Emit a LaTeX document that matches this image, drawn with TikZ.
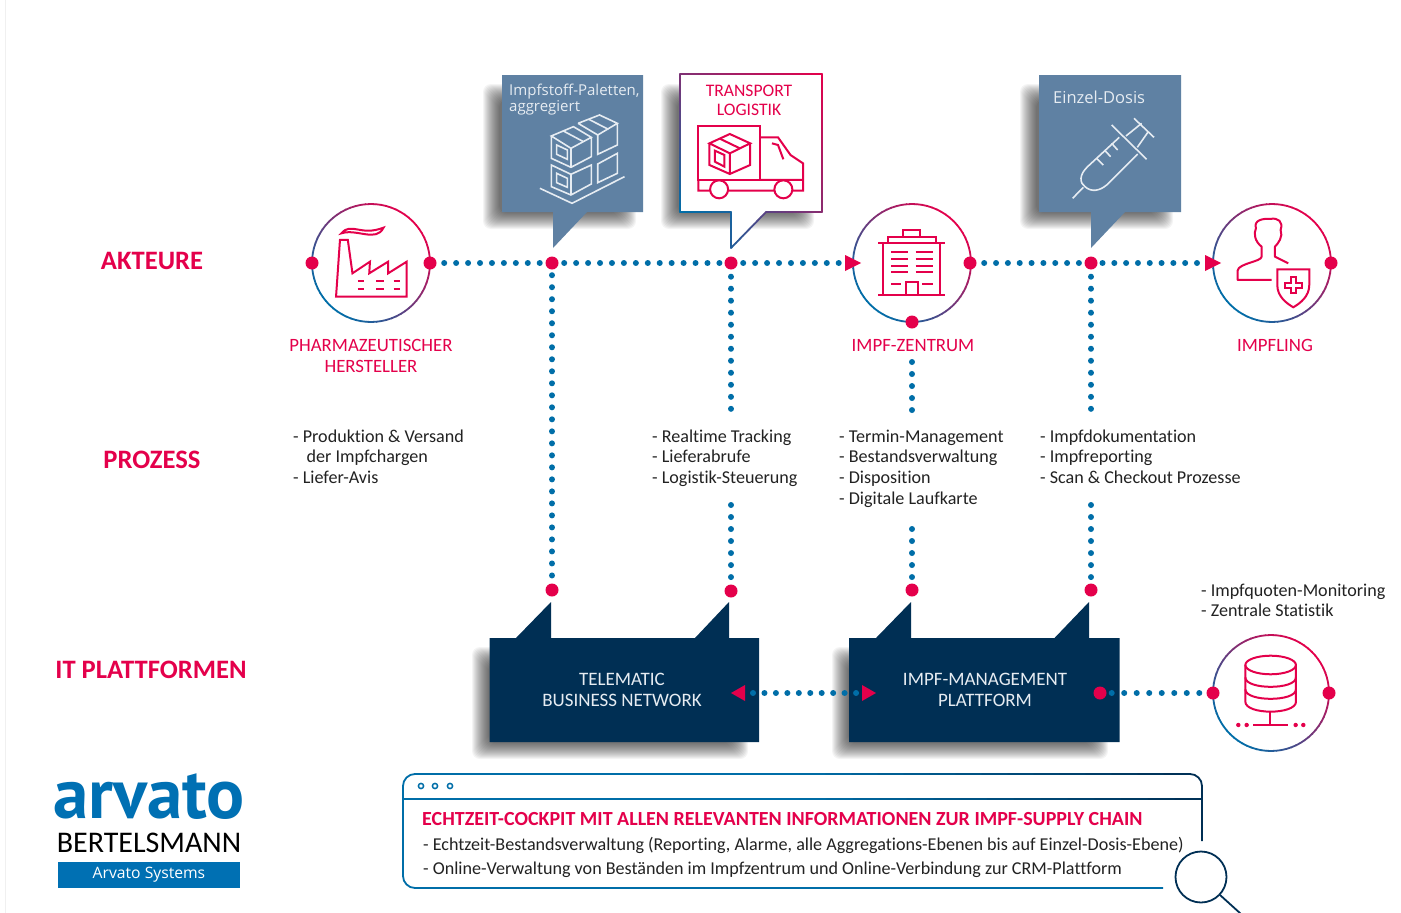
\documentclass[tikz,border=0pt]{standalone}
\usepackage{fontspec}
\setmainfont[Ligatures=NoCommon]{Carlito}
\newfontfamily\uifont{Open Sans}
\newfontfamily\logofont{PT Sans}
\definecolor{pk}{HTML}{E4004B}
\definecolor{bl}{HTML}{006EA8}
\definecolor{nv}{HTML}{002F54}
\definecolor{steel}{HTML}{5F81A3}
\definecolor{lite}{HTML}{E6ECF2}
\definecolor{txt}{HTML}{222222}
\definecolor{logob}{HTML}{0070B3}
\newcommand\gradcircle[3]{\foreach \a in {0,5,...,355}{%
  \pgfmathsetmacro\tv{50+50*cos(\a+2.5-45)}%
  \draw[draw=pk!\tv!bl,line width=1.8pt] ([shift={(\a:#3pt)}]#1,#2) arc[start angle=\a,delta angle=5.6,radius=#3pt];}}
\newcommand\gl[8]{\foreach \i in {0,...,14}{%
  \pgfmathsetmacro\tv{#7+(#8-#7)*(\i+.5)/15}%
  \draw[draw=#1!\tv!#2,line width=1.8pt,line cap=round] ({#3+(#5-#3)*\i/15},{#4+(#6-#4)*\i/15}) -- ({#3+(#5-#3)*(\i+1)/15},{#4+(#6-#4)*(\i+1)/15});}}
\newcommand\softshadow[4]{\foreach \e in {-8,-7,...,8}{%
  \fill[black,opacity=.042,rounded corners=8pt] ({#1-\e},{#2-\e}) rectangle ({#3+\e},{#4+\e});}}
\tikzset{
  reddot/.style={circle,fill=pk,inner sep=0pt,minimum size=13pt},
  dotline/.style={draw=bl,line width=6pt,line cap=round,dash pattern=on 0.01pt off #1pt},
  dotline/.default=11.93,
  pkicon/.style={draw=pk,line width=2pt,line join=miter},
  whicon/.style={draw=lite,line width=1.6pt,line join=miter},
  rowlabel/.style={text=pk,font=\fontsize{26.6}{30}\selectfont\bfseries,inner sep=0pt},
  actor/.style={text=pk,font=\fontsize{18.8}{21}\selectfont,align=center,inner sep=0pt,anchor=north},
  listing/.style={text=txt,font=\fontsize{18.1}{20.7}\selectfont,align=left,inner sep=0pt,anchor=north west},
  boxtext/.style={text=lite,font=\fontsize{19}{21}\selectfont,align=center,inner sep=0pt},
}
\begin{document}
\begin{tikzpicture}[x=1pt,y=-1pt]
\useasboundingbox (0,0) rectangle (1401,913);
\fill[white] (0,0) rectangle (1401,913);
\draw[black!6,line width=1pt] (5,0) -- (5,913);

% shadows
\softshadow{491}{92}{628}{221}
\softshadow{669}{92}{806}{221}
\softshadow{1028}{92}{1165}{221}
\softshadow{480}{655}{740}{751}
\softshadow{840}{655}{1100}{751}

% callouts
\fill[steel] (502,75) -- (643,75) -- (643,212) -- (587,212) -- (553,248) -- (553,212) -- (502,212) -- cycle;
\fill[steel] (1039,75) -- (1181,75) -- (1181,212) -- (1125,212) -- (1091,248) -- (1091,212) -- (1039,212) -- cycle;
\fill[white] (680,74) -- (822,74) -- (822,212) -- (766,212) -- (731,248) -- (731,212) -- (680,212) -- cycle;
\gl{pk}{bl}{680}{74}{822}{74}{55}{100}
\gl{pk}{bl}{822}{74}{822}{212}{100}{60}
\gl{pk}{bl}{822}{212}{766}{212}{60}{40}
\gl{pk}{bl}{766}{212}{731}{248}{40}{15}
\gl{pk}{bl}{731}{248}{731}{212}{15}{10}
\gl{pk}{bl}{731}{212}{680}{212}{10}{0}
\gl{pk}{bl}{680}{212}{680}{74}{0}{55}

% platform boxes
\fill[nv] (489.5,638) -- (516,638) -- (551,602) -- (551,638) -- (695,638) -- (729,602) -- (729,638) -- (759,638) -- (759,742) -- (489.5,742) -- cycle;
\fill[nv] (849,638) -- (876,638) -- (911,602) -- (911,638) -- (1054.5,638) -- (1089,602) -- (1089,638) -- (1119.5,638) -- (1119.5,742) -- (849,742) -- cycle;

% circles
\gradcircle{371}{263}{59}
\gradcircle{912}{263}{59}
\gradcircle{1272}{263}{59}
\gradcircle{1271}{693}{58}

% named junctions
\node[reddot] (f1) at (312,263) {};
\node[reddot] (f2) at (430,263) {};
\node[reddot] (j1) at (552,263) {};
\node[reddot] (j2) at (731,263) {};
\coordinate (a1) at (852,263);
\node[reddot] (z2) at (970,263) {};
\node[reddot] (z3) at (912,322) {};
\node[reddot] (j3) at (1091,263) {};
\coordinate (a2) at (1212,263);
\node[reddot] (p2) at (1331,263) {};
\node[reddot] (b1) at (552,590) {};
\node[reddot] (b2) at (731,591) {};
\node[reddot] (b3) at (912,590) {};
\node[reddot] (b4) at (1091,590) {};
\coordinate (c1) at (731,411);
\coordinate (c2) at (731,505);
\coordinate (c3) at (912,411);
\coordinate (c4) at (912,529);
\coordinate (c5) at (1091,411);
\coordinate (c6) at (1091,505);
\coordinate (c7) at (912,362);
\coordinate (la) at (745,693);
\coordinate (ra) at (862,693);
\node[reddot] (m1) at (1100,693) {};
\node[reddot] (d1) at (1213,693) {};
\node[reddot] (d2) at (1329,693) {};

% dotted connectors
\draw[dotline,shorten <=7.5pt,shorten >=4.5pt] (f2) -- (j1);
\draw[dotline,shorten <=5.5pt,shorten >=4pt] (j1) -- (j2);
\draw[dotline,shorten <=5.5pt,shorten >=8pt] (j2) -- (a1);
\draw[dotline=11.83,shorten <=7.5pt,shorten >=4pt] (z2) -- (j3);
\draw[dotline=11.8,shorten <=4.8pt,shorten >=12pt] (j3) -- (a2);
\draw[dotline=12,shorten <=5.5pt,shorten >=5pt] (j1) -- (b1);
\draw[dotline=12,shorten <=7pt] (j2) -- (c1);
\draw[dotline=12,shorten >=6pt] (c2) -- (b2);
\draw[dotline=12] (c7) -- (c3);
\draw[dotline=12,shorten >=5pt] (c4) -- (b3);
\draw[dotline=12,shorten <=7pt] (j3) -- (c5);
\draw[dotline=12,shorten >=6pt] (c6) -- (b4);
\draw[dotline=11.44,shorten <=8pt,shorten >=4pt] (la) -- (ra);
\draw[dotline=12.5,shorten <=5pt,shorten >=6pt] (m1) -- (d1);

% arrowheads
\fill[pk] (a1) ++(-7,-8) -- ++(16,8) -- ++(-16,8) -- cycle;
\fill[pk] (a2) ++(-7,-8) -- ++(16,8) -- ++(-16,8) -- cycle;
\fill[pk] (la) ++(0,-8) -- ++(-14,8) -- ++(14,8) -- cycle;
\fill[pk] (ra) ++(0,-8) -- ++(14,8) -- ++(-14,8) -- cycle;

% factory icon (zoom coordinates)
\begin{scope}[shift={(280,60)},x=.357pt,y=-.3333pt]
\draw[pkicon] (157,710) -- (168,540) -- (190,540) -- (203,640) -- (252,605) -- (250,640) -- (303,605) -- (303,640) -- (355,605) -- (355,710) -- cycle;
\draw[pkicon] (172,520) .. controls (200,485) and (225,530) .. (290,503) .. controls (270,548) and (215,505) .. (172,520) -- cycle;
\foreach \y in {663,687}{\foreach \a/\b in {218/235,270/290,318/335}{\draw[pkicon] (\a,\y) -- (\b,\y);}}
% crates
\draw[whicon] (760,228) -- (822,200) -- (872,232) -- (815,265) -- cycle (760,228) -- (760,295) -- (815,322) -- (872,290) -- (872,232) (815,265) -- (815,322);
\draw[whicon] (775,255) -- (805,270) -- (805,298) -- (775,283) -- cycle;
\draw[whicon] (792,212) -- (850,245);
\draw[whicon] (835,190) -- (895,165) -- (945,190) -- (890,225) (945,190) -- (945,255) -- (890,283) -- (890,225) -- (835,190);
\draw[whicon] (865,178) -- (920,208);
\draw[whicon] (890,312) -- (945,280) -- (945,340) -- (890,368) -- cycle;
\draw[whicon] (760,315) -- (815,343) -- (872,315) -- (872,372) -- (815,405) -- (760,380) -- cycle (815,343) -- (815,405);
\draw[whicon] (775,340) -- (805,355) -- (805,382) -- (775,368) -- cycle;
\draw[whicon] (728,385) -- (818,430) -- (965,350);
% truck
\draw[pkicon] (1172,198) -- (1345,198) -- (1345,360) -- (1172,360) -- cycle;
\draw[pkicon] (1172,360) -- (1172,392) -- (1205,392) (1255,392) -- (1385,392) (1435,392) -- (1465,392) -- (1465,310) -- (1430,285) -- (1395,232) -- (1345,232) (1345,360) -- (1465,360);
\draw[pkicon] (1230,388) circle[radius=9pt] (1410,388) circle[radius=9pt];
\draw[pkicon] (1378,250) -- (1395,255) -- (1410,298);
\draw[pkicon] (1203,250) -- (1260,222) -- (1317,250) -- (1260,280) -- cycle (1203,250) -- (1203,315) -- (1260,342) -- (1317,315) -- (1317,250) (1260,280) -- (1260,342);
\draw[pkicon] (1218,272) -- (1245,285) -- (1245,320) -- (1218,305) -- cycle;
\draw[pkicon] (1232,236) -- (1288,265);
\end{scope}

\begin{scope}[shift={(840,60)},x=.3333pt,y=-.3333pt]
% building
\draw[pkicon] (115,706) -- (315,706) (130,706) -- (130,550) (300,550) -- (300,706) (115,550) -- (315,550);
\draw[pkicon] (145,550) -- (145,530) -- (288,530) -- (288,550) (190,530) -- (190,510) -- (240,510) -- (240,530);
\foreach \y in {577,597,617,637}{\draw[pkicon] (153,\y) -- (205,\y) (227,\y) -- (280,\y);}
\draw[pkicon] (197,706) -- (197,665) -- (233,665) -- (233,706) (153,672) -- (183,672) (247,672) -- (280,672);
% person
\draw[pkicon,line join=round] (1295,660) -- (1193,660) -- (1193,632) .. controls (1195,610) and (1265,605) .. (1265,590) -- (1265,560) .. controls (1245,545) and (1240,520) .. (1248,505) .. controls (1240,480) and (1270,475) .. (1290,477) .. controls (1315,472) and (1330,485) .. (1322,510) .. controls (1330,530) and (1315,550) .. (1305,560) -- (1305,590) -- (1345,610);
\draw[pkicon] (1312,628) -- (1408,628) -- (1408,675) .. controls (1408,710) and (1380,730) .. (1360,742) .. controls (1340,730) and (1312,710) .. (1312,675) -- cycle;
\draw[pkicon] (1352,652) -- (1368,652) -- (1368,668) -- (1385,668) -- (1385,683) -- (1368,683) -- (1368,698) -- (1352,698) -- (1352,683) -- (1335,683) -- (1335,668) -- (1352,668) -- cycle;
% syringe
\draw[whicon,line join=round] (838,232) -- (745,318) .. controls (715,345) and (720,370) .. (735,380) .. controls (755,398) and (780,392) .. (800,375) -- (893,282);
\draw[whicon] (815,195) -- (920,298) (882,175) -- (942,232) (858,228) -- (905,190) (892,262) -- (925,215);
\draw[whicon] (730,382) -- (698,415) (770,295) -- (790,315) (795,272) -- (812,290) (815,250) -- (833,270);
\end{scope}

% database
\begin{scope}[shift={(1090,570)},x=.3333pt,y=-.3333pt]
\draw[pkicon] (542,285) ellipse[x radius=25.3pt,y radius=9.3pt];
\draw[pkicon] (466,285) -- (466,395) .. controls (466,435) and (618,435) .. (618,395) -- (618,285);
\draw[pkicon] (466,322) .. controls (466,360) and (618,360) .. (618,322) (466,358) .. controls (466,396) and (618,396) .. (618,358);
\draw[pkicon] (540,423) -- (540,465) (490,465) -- (595,465);
\foreach \x in {445,470,617,640}{\fill[pk] (\x,465) circle[radius=2.2pt];}
\end{scope}

% row labels
\node[rowlabel] (r1) at (152,261) {AKTEURE};
\node[rowlabel] (r2) at (152,460) {PROZESS};
\node[rowlabel] (r3) at (151,670) {IT PLATTFORMEN};

% actor labels
\node[actor] (l1) at (371,339) {PHARMAZEUTISCHER\\HERSTELLER};
\node[actor] (l2) at (913,339) {IMPF-ZENTRUM};
\node[actor] (l3) at (1275,339) {IMPFLING};

% callout text
\node[text=lite,font=\uifont\fontsize{15}{16}\selectfont,align=left,inner sep=0pt,anchor=north west] (t1) at (509,84) {Impfstoff-Paletten,\\aggregiert};
\node[text=pk,font=\fontsize{17.6}{19}\selectfont,align=center,inner sep=0pt,anchor=north] (t2) at (749,85) {TRANSPORT\\LOGISTIK};
\node[text=lite,font=\uifont\fontsize{16.5}{17}\selectfont,inner sep=0pt,anchor=west] (t3) at (1053,97) {Einzel-Dosis};

% listings
\node[listing] (p1) at (293,429.5) {- Produktion \& Versand\\\hspace*{13.5pt}der Impfchargen\\- Liefer-Avis};
\node[listing] (p2) at (652,429.5) {- Realtime Tracking\\- Lieferabrufe\\- Logistik-Steuerung};
\node[listing] (p3) at (839,429.5) {- Termin-Management\\- Bestandsverwaltung\\- Disposition\\- Digitale Laufkarte};
\node[listing] (p4) at (1040,429.5) {- Impfdokumentation\\- Impfreporting\\- Scan \& Checkout Prozesse};
\node[listing] (p5) at (1201,583.5) {- Impfquoten-Monitoring\\- Zentrale Statistik};

% platform text
\node[boxtext] (x1) at (622,689.5) {TELEMATIC\\BUSINESS NETWORK};
\node[boxtext] (x2) at (985,689.5) {IMPF-MANAGEMENT\\PLATTFORM};

% window
\draw[bl,line width=1.8pt] (1163,888) -- (415,888) arc[start angle=270,end angle=180,radius=12pt] -- (403,786) arc[start angle=180,end angle=90,radius=12pt] -- (800,774);
\gl{nv}{bl}{800}{774}{1190}{774}{0}{100}
\draw[nv,line width=1.8pt] (1190,774) arc[start angle=90,end angle=0,radius=12pt] -- (1202,841);
\draw[bl,line width=1.8pt] (403,799) -- (800,799);
\gl{nv}{bl}{800}{799}{1202}{799}{0}{100}
\foreach \x in {421,435,450}{\draw[bl,line width=1.5pt] (\x,786) circle[radius=2.6pt];}
\node[text=pk,font=\fontsize{20}{22}\selectfont\bfseries,inner sep=0pt,anchor=west] (w0) at (422,819) {ECHTZEIT-COCKPIT MIT ALLEN RELEVANTEN INFORMATIONEN ZUR IMPF-SUPPLY CHAIN};
\node[listing,font=\fontsize{18.1}{24}\selectfont] (w1) at (423,837) {- Echtzeit-Bestandsverwaltung (Reporting, Alarme, alle Aggregations-Ebenen bis auf Einzel-Dosis-Ebene)\\- Online-Verwaltung von Beständen im Impfzentrum und Online-Verbindung zur CRM-Plattform};
% magnifier
\draw[nv,line width=1.8pt] (1201,877) circle[radius=25.5pt];
\draw[nv,line width=1.8pt] (1220,895) -- (1241,914);

% logo
\node[text=logob,font=\logofont\fontsize{71}{74}\selectfont\bfseries,inner sep=0pt,anchor=base] (lg1) at (149,818) {arvato};
\node[text=black,font=\fontsize{30}{31}\selectfont,inner sep=0pt,anchor=base] (lg2) at (149,852) {BERTELSMANN};
\node[fill=logob,text=white,minimum width=182pt,minimum height=26pt,inner sep=0pt,font=\uifont\fontsize{15.7}{17}\selectfont] (lg3) at (149,875) {Arvato Systems};
\end{tikzpicture}
\end{document}
